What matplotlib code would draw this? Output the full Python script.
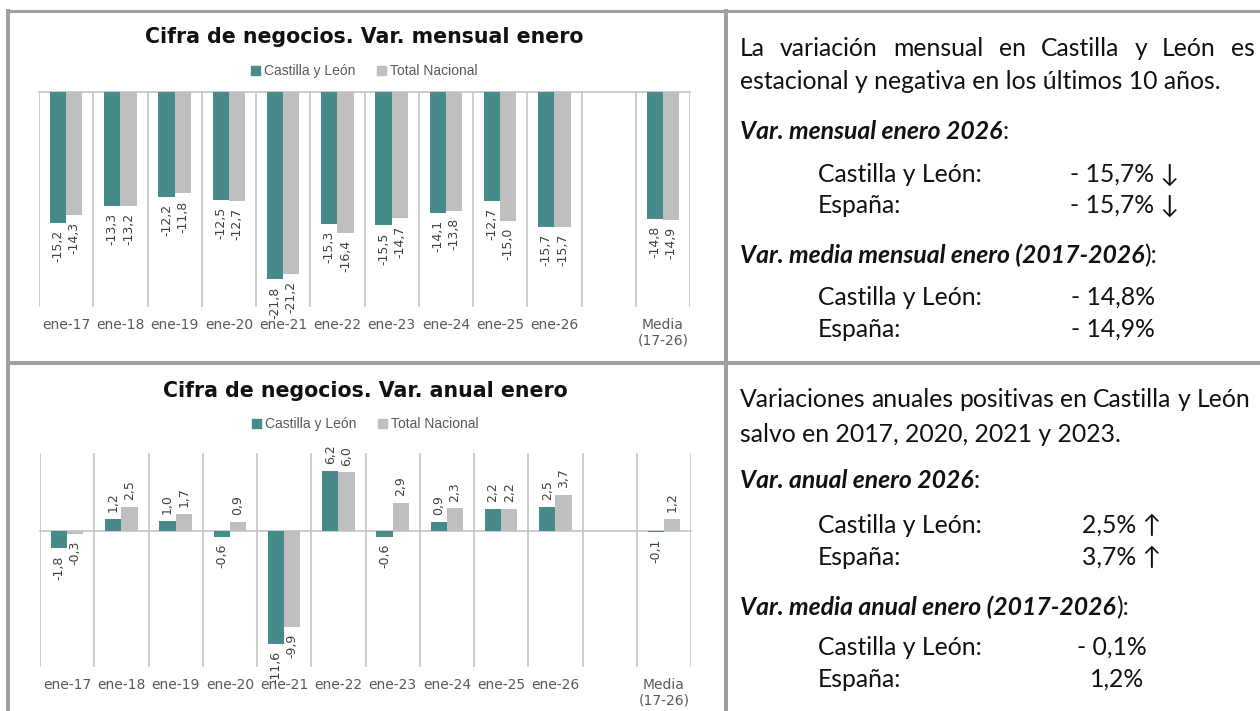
import numpy as np
import matplotlib
matplotlib.use("Agg")
import matplotlib.pyplot as plt
from matplotlib.patches import Patch

# ── data ─────────────────────────────────────────────────────────────────────
categories = ["ene-17", "ene-18", "ene-19", "ene-20", "ene-21", "ene-22",
              "ene-23", "ene-24", "ene-25", "ene-26", "", "Media\n(17-26)"]
series_names = ["Castilla y León", "Total Nacional"]

mensual_cyl = [-15.2, -13.3, -12.2, -12.5, -21.8, -15.3, -15.5, -14.1, -12.7, -15.7, np.nan, -14.8]
mensual_nac = [-14.3, -13.2, -11.8, -12.7, -21.2, -16.4, -14.7, -13.8, -15.0, -15.7, np.nan, -14.9]

anual_cyl = [-1.8, 1.2, 1.0, -0.6, -11.6, 6.2, -0.6, 0.9, 2.2, 2.5, np.nan, -0.1]
anual_nac = [-0.3, 2.5, 1.7, 0.9, -9.9, 6.0, 2.9, 2.3, 2.2, 3.7, np.nan, 1.2]

TEAL = "#468b8a"
GREY = "#bfbfbf"
GRID = "#c4c4c4"
BORDER = "#a0a0a0"
LABEL = "#404040"
TICK = "#595959"

plt.rcParams["font.family"] = ["DejaVu Sans"]

W, H = 1260, 711
fig = plt.figure(figsize=(W / 100, H / 100), dpi=100)

# background axes in pixel coordinates (borders + text column)
bg = fig.add_axes([0, 0, 1, 1])
bg.set_xlim(0, W)
bg.set_ylim(H, 0)
bg.axis("off")

bg.plot([6, W], [10.5, 10.5], color=BORDER, lw=2.2, solid_capstyle="butt")
bg.plot([6, W], [363, 363], color=BORDER, lw=2.9, solid_capstyle="butt")
bg.plot([8, 8], [9, H], color=BORDER, lw=2.9, solid_capstyle="butt")
bg.plot([726, 726], [9, H], color=BORDER, lw=2.9, solid_capstyle="butt")


def fmt(v):
    return f"{v:.1f}".replace(".", ",")


def draw_chart(px_left, px_top, px_right, px_bottom, title, title_y, legend_y, cyl, nac, ylim):
    ax = fig.add_axes([px_left / W, 1 - px_bottom / H,
                       (px_right - px_left) / W, (px_bottom - px_top) / H])
    x = np.arange(len(categories))
    w = 0.3
    b1 = ax.bar(x - w / 2, cyl, w, color=TEAL, zorder=3)
    b2 = ax.bar(x + w / 2, nac, w, color=GREY, zorder=3)
    for bars, vals in ((b1, cyl), (b2, nac)):
        for r, v in zip(bars, vals):
            if np.isnan(v):
                continue
            ax.annotate(fmt(v), (r.get_x() + r.get_width() / 2, v),
                        xytext=(0, 5 if v >= 0 else -5), textcoords="offset points",
                        rotation=90, ha="center", va="bottom" if v >= 0 else "top",
                        fontsize=9, color=LABEL, annotation_clip=False)
    ax.set_xlim(-0.5, len(categories) - 0.5)
    ax.set_ylim(*ylim)
    ax.axhline(0, color=GRID, lw=1.2, clip_on=False, zorder=2)
    ax.set_xticks(x)
    ax.set_xticklabels(categories, fontsize=10, color=TICK, linespacing=1.1)
    ax.set_xticks(np.arange(len(categories) + 1) - 0.5, minor=True)
    ax.tick_params(which="both", length=0, pad=8)
    ax.grid(which="minor", axis="x", color=GRID, lw=1.2)
    ax.set_yticks([])
    for s in ax.spines.values():
        s.set_visible(False)

    cx = (px_left + px_right) / 2 / W
    fig.text(cx, 1 - title_y / H, title, ha="center", va="center",
             fontsize=14.8, fontweight="bold", color="#111111")
    handles = [Patch(color=TEAL), Patch(color=GREY)]
    fig.legend(handles, series_names, loc="center",
               bbox_to_anchor=(cx, 1 - legend_y / H), ncol=2, frameon=False,
               prop={"family": "Liberation Sans", "size": 10}, labelcolor=TICK,
               handlelength=0.6, handleheight=0.6, handletextpad=0.3,
               columnspacing=1.6, borderpad=0)
    return ax


draw_chart(39, 92, 690, 307, "Cifra de negocios. Var. mensual enero", 37, 71,
           np.array(mensual_cyl), np.array(mensual_nac), (-25, 0))
draw_chart(40, 453, 691, 667, "Cifra de negocios. Var. anual enero", 391, 424,
           np.array(anual_cyl), np.array(anual_nac), (-14, 8))

# ── text column ──────────────────────────────────────────────────────────────
BODY = dict(family=["Lato", "DejaVu Sans"], fontsize=17.8, color="#111111")
renderer = fig.canvas.get_renderer()


def justify(words, x0, x1, y):
    texts = [bg.text(x0, y, wd, ha="left", va="baseline", **BODY) for wd in words]
    widths = [t.get_window_extent(renderer).width for t in texts]
    gap = (x1 - x0 - sum(widths)) / (len(words) - 1)
    xx = x0
    for t, wdt in zip(texts, widths):
        t.set_x(xx)
        xx += wdt + gap


def runs(parts, x0, y):
    xx = x0
    for s, bold in parts:
        kw = dict(BODY)
        if bold:
            kw.update(fontweight="bold", fontstyle="italic")
        t = bg.text(xx, y, s, ha="left", va="baseline", **kw)
        xx += t.get_window_extent(renderer).width


LX, IX = 740, 818

justify("La variación mensual en Castilla y León es".split(), LX, 1255, 56)
bg.text(LX, 89, "estacional y negativa en los últimos 10 años.", ha="left", va="baseline", **BODY)
runs([("Var. mensual enero 2026", True), (":", False)], LX, 139)
bg.text(IX, 182, "Castilla y León:", ha="left", va="baseline", **BODY)
bg.text(1070, 182, "- 15,7% ↓", ha="left", va="baseline", **BODY)
bg.text(IX, 213, "España:", ha="left", va="baseline", **BODY)
bg.text(1070, 213, "- 15,7% ↓", ha="left", va="baseline", **BODY)
runs([("Var. media mensual enero (2017-2026", True), ("):", False)], LX, 263)
bg.text(IX, 305, "Castilla y León:", ha="left", va="baseline", **BODY)
bg.text(1071, 305, "- 14,8%", ha="left", va="baseline", **BODY)
bg.text(IX, 337, "España:", ha="left", va="baseline", **BODY)
bg.text(1071, 337, "- 14,9%", ha="left", va="baseline", **BODY)

justify("Variaciones anuales positivas en Castilla y León".split(), LX, 1250, 407)
bg.text(LX, 442, "salvo en 2017, 2020, 2021 y 2023.", ha="left", va="baseline", **BODY)
runs([("Var. anual enero 2026", True), (":", False)], LX, 488)
bg.text(IX, 533, "Castilla y León:", ha="left", va="baseline", **BODY)
bg.text(1082, 533, "2,5% ↑", ha="left", va="baseline", **BODY)
bg.text(IX, 565, "España:", ha="left", va="baseline", **BODY)
bg.text(1082, 565, "3,7% ↑", ha="left", va="baseline", **BODY)
runs([("Var. media anual enero (2017-2026", True), ("):", False)], LX, 615)
bg.text(IX, 655, "Castilla y León:", ha="left", va="baseline", **BODY)
bg.text(1077, 655, "- 0,1%", ha="left", va="baseline", **BODY)
bg.text(IX, 687, "España:", ha="left", va="baseline", **BODY)
bg.text(1090, 687, "1,2%", ha="left", va="baseline", **BODY)

fig.savefig("out.png", dpi=100)
